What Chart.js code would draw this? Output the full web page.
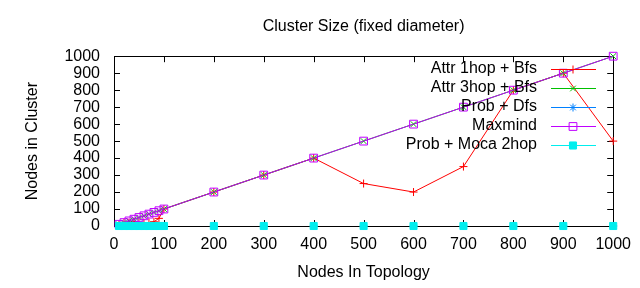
<!DOCTYPE html>
<html>
<head>
<meta charset="utf-8">
<script src="https://cdn.jsdelivr.net/npm/chart.js@4/dist/chart.umd.min.js"></script>
<style>
  html, body { margin: 0; padding: 0; background: #fff; }
  canvas { display: block; }
</style>
</head>
<body>
<canvas id="clusterChart" width="640" height="288"></canvas>
<script>
// Data
const topologySizes = [10, 20, 30, 40, 50, 60, 70, 80, 90, 100, 200, 300, 400, 500, 600, 700, 800, 900, 1000];
const attr1hopBfs = [10, 20, 20, 25, 20, 20, 20, 25, 45, 100, 200, 300, 400, 250, 200, 350, 800, 900, 500];
const attr3hopBfs = [10, 20, 30, 40, 50, 60, 70, 80, 90, 100, 200, 300, 400, 500, 600, 700, 800, 900, 1000];
const probDfs = [0, 0, 0, 0, 0, 0, 0, 0, 0, 0, 0, 0, 0, 0, 0, 0, 0, 0, 0];
const maxmind = [10, 20, 30, 40, 50, 60, 70, 80, 90, 100, 200, 300, 400, 500, 600, 700, 800, 900, 1000];
const probMoca2hop = [0, 0, 0, 0, 0, 0, 0, 0, 0, 0, 0, 0, 0, 0, 0, 0, 0, 0, 0];
const axisTicks = [0, 100, 200, 300, 400, 500, 600, 700, 800, 900, 1000];

const FONT = "'Liberation Sans', Arial, sans-serif";
const pts = ys => topologySizes.map((x, i) => ({ x: x, y: ys[i] }));

// gnuplot-like box with inward ticks on all four sides
const framePlugin = {
    id: 'frame',
    beforeDatasetsDraw(chart) {
        const { ctx, chartArea: a, scales } = chart;
        ctx.save();
        ctx.strokeStyle = '#000';
        ctx.lineWidth = 1;
        ctx.beginPath();
        axisTicks.forEach(v => {
            const x = Math.round(scales.x.getPixelForValue(v)) + 0.5;
            const y = Math.round(scales.y.getPixelForValue(v)) + 0.5;
            ctx.moveTo(x, a.bottom); ctx.lineTo(x, a.bottom - 6);
            ctx.moveTo(x, a.top); ctx.lineTo(x, a.top + 6);
            ctx.moveTo(a.left, y); ctx.lineTo(a.left + 6, y);
            ctx.moveTo(a.right, y); ctx.lineTo(a.right - 6, y);
        });
        ctx.stroke();
        ctx.strokeRect(Math.round(a.left) + 0.5, Math.round(a.top) + 0.5,
            Math.round(a.right - a.left), Math.round(a.bottom - a.top));
        ctx.restore();
    }
};

// legend inside the plot, text right aligned, sample line + point to the right
const keyPlugin = {
    id: 'gnuplotKey',
    afterDatasetsDraw(chart) {
        const { ctx } = chart;
        ctx.save();
        ctx.font = '16px ' + FONT;
        ctx.textAlign = 'right';
        ctx.textBaseline = 'middle';
        chart.data.datasets.forEach((ds, i) => {
            const y = 69 + i * 19;
            ctx.fillStyle = '#000';
            ctx.fillText(ds.label, 537, y);
            ctx.fillStyle = ds.pointBorderColor;
            ctx.fillRect(551, y, 45, 1);
            ctx.fillStyle = ds.pointBackgroundColor;
            ctx.strokeStyle = ds.pointBorderColor;
            ctx.lineWidth = ds.pointBorderWidth;
            Chart.helpers.drawPoint(ctx, {
                pointStyle: ds.pointStyle, radius: ds.pointRadius,
                rotation: 0, borderWidth: ds.pointBorderWidth
            }, 573, y + 0.5);
        });
        ctx.restore();
    }
};

const tickFont = { family: FONT, size: 16 };

new Chart(document.getElementById('clusterChart'), {
    type: 'line',
    data: {
        datasets: [{
            label: 'Attr 1hop + Bfs',
            data: pts(attr1hopBfs),
            borderColor: 'rgb(255,0,0)',
            pointBorderColor: 'rgb(255,0,0)',
            pointBackgroundColor: 'rgb(255,0,0)',
            pointStyle: 'cross',
            pointRadius: 4,
            pointBorderWidth: 1,
            borderWidth: 1,
            order: 5
        }, {
            label: 'Attr 3hop + Bfs',
            data: pts(attr3hopBfs),
            borderColor: 'rgb(0,192,0)',
            pointBorderColor: 'rgb(0,192,0)',
            pointBackgroundColor: 'rgb(0,192,0)',
            pointStyle: 'crossRot',
            pointRadius: 4,
            pointBorderWidth: 1,
            borderWidth: 1,
            order: 4
        }, {
            label: 'Prob + Dfs',
            data: pts(probDfs),
            borderColor: 'rgb(0,128,255)',
            pointBorderColor: 'rgb(0,128,255)',
            pointBackgroundColor: 'rgb(0,128,255)',
            pointStyle: 'star',
            pointRadius: 4,
            pointBorderWidth: 1,
            borderWidth: 1,
            showLine: false,
            order: 3
        }, {
            label: 'Maxmind',
            data: pts(maxmind),
            borderColor: 'rgb(192,0,255)',
            pointBorderColor: 'rgb(192,0,255)',
            pointBackgroundColor: 'rgba(0,0,0,0)',
            pointStyle: 'rect',
            pointRadius: 5.5,
            pointBorderWidth: 1,
            borderWidth: 1,
            order: 2
        }, {
            label: 'Prob + Moca 2hop',
            data: pts(probMoca2hop),
            borderColor: 'rgb(0,238,238)',
            pointBorderColor: 'rgb(0,238,238)',
            pointBackgroundColor: 'rgb(0,238,238)',
            pointStyle: 'rect',
            pointRadius: 5,
            pointBorderWidth: 1,
            borderWidth: 1,
            showLine: false,
            order: 1
        }]
    },
    options: {
        responsive: false,
        animation: false,
        clip: false,
        layout: { padding: { left: 0, right: 25, top: 0, bottom: 0 } },
        elements: { line: { tension: 0 }, point: { hoverRadius: 0 } },
        plugins: {
            legend: { display: false },
            tooltip: { enabled: false },
            title: {
                display: true,
                fullSize: false,
                text: 'Cluster Size (fixed diameter)',
                color: '#000',
                font: { family: FONT, size: 16, weight: 'normal' },
                padding: { top: 17, bottom: 20 }
            }
        },
        scales: {
            x: {
                type: 'linear',
                min: 0,
                max: 1000,
                afterFit: s => { s.height = 62; },
                afterBuildTicks: s => { s.ticks = axisTicks.map(v => ({ value: v })); },
                grid: { display: false, drawTicks: false },
                border: { display: false },
                ticks: { color: '#000', padding: 9, maxRotation: 0, autoSkip: false,
                    callback: v => String(v), font: tickFont },
                title: {
                    display: true,
                    text: 'Nodes In Topology',
                    color: '#000',
                    font: tickFont,
                    padding: { top: 0, bottom: 6 }
                }
            },
            y: {
                type: 'linear',
                min: 0,
                max: 1000,
                afterFit: s => { s.width = 114; },
                afterBuildTicks: s => { s.ticks = axisTicks.map(v => ({ value: v })); },
                grid: { display: false, drawTicks: false },
                border: { display: false },
                ticks: { color: '#000', padding: 14, autoSkip: false,
                    callback: v => String(v), font: tickFont },
                title: {
                    display: true,
                    text: 'Nodes in Cluster',
                    color: '#000',
                    font: tickFont,
                    padding: { top: 23, bottom: 0 }
                }
            }
        }
    },
    plugins: [framePlugin, keyPlugin]
});
</script>
</body>
</html>
